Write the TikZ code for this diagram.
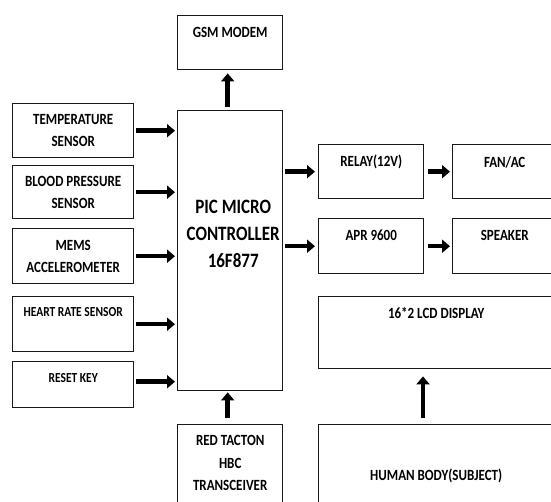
\documentclass[tikz,border=0pt]{standalone}
\usepackage{fontspec}
\usepackage{graphicx}
\setmainfont{Carlito}
\usetikzlibrary{arrows.meta}
\newcommand\vst[1]{\scalebox{1}[1.2]{#1}}
\begin{document}
\begin{tikzpicture}[x=1pt,y=-1pt,
  box/.style={draw=black!90,line width=1.4pt,inner sep=0pt,anchor=north west},
  txt/.style={font=\bfseries\fontsize{13}{22.5}\selectfont,align=center,inner sep=0pt,text=black},
  stxt/.style={font=\bfseries\fontsize{11.5}{14}\selectfont,align=center,inner sep=0pt,text=black},
  btxt/.style={font=\bfseries\fontsize{17}{27}\selectfont,align=center,inner sep=0pt,text=black},
  arr/.style={line width=4.5pt,-{Triangle[length=8pt,width=13pt]},shorten <=2pt,shorten >=2pt}]
\useasboundingbox (0,0) rectangle (551,501);
\begin{scope}
\clip (0,0) rectangle (551,501);
% boxes
\node[box,minimum width=105pt,minimum height=54pt] (gsm) at (177,15) {};
\node[box,minimum width=105pt,minimum height=280pt] (pic) at (177,110) {};
\node[box,minimum width=121pt,minimum height=54pt] (temp) at (12,103) {};
\node[box,minimum width=121pt,minimum height=53pt] (bp) at (12,165) {};
\node[box,minimum width=121pt,minimum height=55pt] (mems) at (12,228) {};
\node[box,minimum width=121pt,minimum height=55pt] (heart) at (12,296) {};
\node[box,minimum width=121pt,minimum height=46pt] (reset) at (12,361) {};
\node[box,minimum width=105pt,minimum height=100pt] (red) at (177,424) {};
\node[box,minimum width=105pt,minimum height=54pt] (relay) at (318,144) {};
\node[box,minimum width=104pt,minimum height=54pt] (fan) at (452,144) {};
\node[box,minimum width=105pt,minimum height=55pt] (apr) at (318,218) {};
\node[box,minimum width=104pt,minimum height=55pt] (spk) at (452,218) {};
\node[box,minimum width=235pt,minimum height=72pt] (lcd) at (318,296) {};
\node[box,minimum width=235pt,minimum height=100pt] (human) at (318,424) {};
% texts
\node[txt] (gsmT) at ([yshift=-17pt]gsm.north) {\vst{GSM MODEM}};
\node[btxt] (picT) at ([xshift=3pt,yshift=-124pt]pic.north) {\vst{PIC MICRO}\\\vst{CONTROLLER}\\\vst{16F877}};
\node[txt] (tempT) at (temp.center) {\vst{TEMPERATURE}\\\vst{SENSOR}};
\node[txt] (bpT) at (bp.center) {\vst{BLOOD PRESSURE}\\\vst{SENSOR}};
\node[txt] (memsT) at (mems.center) {\vst{MEMS}\\\vst{ACCELEROMETER}};
\node[stxt] (heartT) at ([yshift=-16pt]heart.north) {\vst{HEART RATE SENSOR}};
\node[stxt] (resetT) at ([yshift=-17pt]reset.north) {\vst{RESET KEY}};
\node[txt] (redT) at ([yshift=-39pt]red.north) {\vst{RED TACTON}\\\vst{HBC}\\\vst{TRANSCEIVER}};
\node[txt] (relayT) at ([yshift=-18pt]relay.north) {\vst{RELAY(12V)}};
\node[txt] (fanT) at ([yshift=-18pt]fan.north) {\vst{FAN/AC}};
\node[txt] (aprT) at ([yshift=-17pt]apr.north) {\vst{APR 9600}};
\node[txt] (spkT) at ([yshift=-17pt]spk.north) {\vst{SPEAKER}};
\node[txt] (lcdT) at ([yshift=-17pt]lcd.north) {\vst{16*2 LCD DISPLAY}};
\node[txt] (humanT) at ([yshift=-52pt]human.north) {\vst{HUMAN BODY(SUBJECT)}};
% arrows
\draw[arr] (temp.east) -- (temp.east -| pic.west);
\draw[arr] (bp.east) -- (bp.east -| pic.west);
\draw[arr] (mems.east) -- (mems.east -| pic.west);
\draw[arr] (heart.east) -- (heart.east -| pic.west);
\draw[arr] ([yshift=3pt]reset.east) -- ([yshift=3pt]reset.east -| pic.west);
\draw[arr,shorten <=3pt,shorten >=3pt] ([xshift=-2.5pt]pic.north) -- ([xshift=-2.5pt]gsm.south);
\draw[arr,shorten <=6pt,shorten >=1pt] ([xshift=-2.5pt]red.north) -- ([xshift=-2.5pt]pic.south);
\draw[arr,shorten >=3pt] (relay.west -| pic.east) -- (relay.west);
\draw[arr,shorten >=3pt] (apr.west -| pic.east) -- (apr.west);
\draw[arr,shorten <=4pt] (relay.east) -- (fan.west);
\draw[arr,shorten <=4pt] (apr.east) -- (spk.west);
\coordinate (ax) at (423,0);
\draw[arr,shorten <=6pt,shorten >=7pt] (ax |- human.north) -- (ax |- lcd.south);
\end{scope}
\end{tikzpicture}
\end{document}
